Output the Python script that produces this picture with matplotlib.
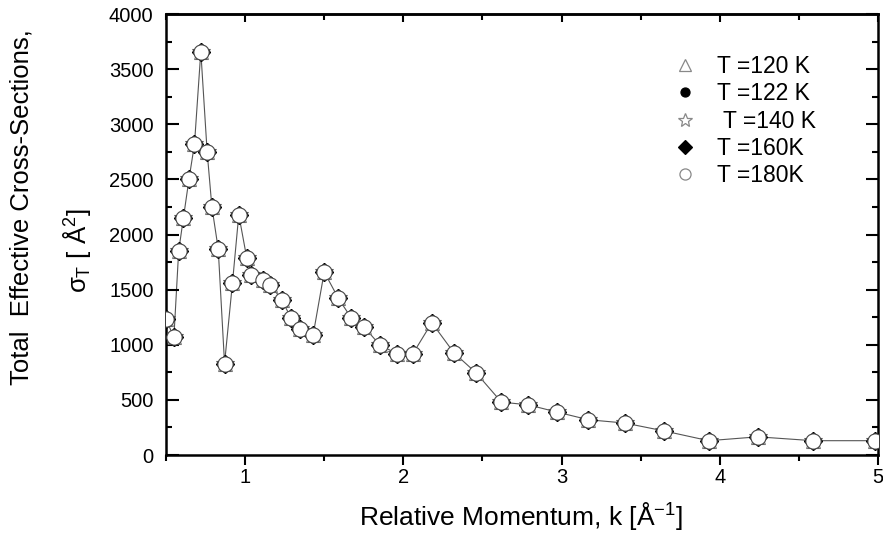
import matplotlib.pyplot as plt
import numpy as np
from matplotlib.ticker import MultipleLocator

plt.rcParams['font.family'] = ['Liberation Sans', 'DejaVu Sans']
plt.rcParams['mathtext.fontset'] = 'custom'
plt.rcParams['mathtext.rm'] = 'Liberation Sans'
plt.rcParams['mathtext.it'] = 'Liberation Sans'

# relative momentum k [1/A] and total cross section [A^2] (all temperatures overlap)
k = [0.50, 0.55, 0.58, 0.61, 0.645, 0.68, 0.72, 0.76, 0.79, 0.83, 0.87, 0.92,
     0.96, 1.01, 1.04, 1.11, 1.16, 1.23, 1.29, 1.35, 1.43, 1.50, 1.59, 1.67,
     1.75, 1.85, 1.96, 2.06, 2.18, 2.32, 2.46, 2.62, 2.79, 2.97, 3.17, 3.40,
     3.65, 3.93, 4.24, 4.59, 4.98]
sigma = [1230, 1070, 1850, 2150, 2500, 2820, 3660, 2750, 2250, 1870, 830, 1560,
         2180, 1790, 1630, 1590, 1545, 1410, 1245, 1145, 1090, 1660, 1420, 1245,
         1165, 1000, 918, 918, 1200, 927, 745, 480, 455, 390, 320, 290,
         218, 130, 165, 130, 130]
labels = ['T =120 K', 'T =122 K', ' T =140 K', 'T =160K', 'T =180K']

fig = plt.figure(figsize=(8.83, 5.33), dpi=100)
ax = fig.add_axes([0.188, 0.1463, 0.8063, 0.8274])

ax.plot(k, sigma, color='#555555', lw=0.8, zorder=1)
# markers, drawn on top of each other like in the original
ax.plot(k, sigma, ls='none', marker='^', ms=10, mfc='white', mec='#777777', mew=0.8, label=labels[0], zorder=2)
ax.plot(k, sigma, ls='none', marker='o', ms=7, mfc='black', mec='black', label=labels[1], zorder=2)
ax.plot(k, sigma, ls='none', marker='*', ms=13, mfc='white', mec='#555555', mew=0.8, label=labels[2], zorder=2)
ax.plot(k, sigma, ls='none', marker='D', ms=9, mfc='black', mec='black', label=labels[3], zorder=2)
ax.plot(k, sigma, ls='none', marker='o', ms=11, mfc='white', mec='#444444', mew=0.8, label=labels[4], zorder=3)

leg = ax.legend(loc='upper left', bbox_to_anchor=(0.7128, 0.907), frameon=False,
                fontsize=16.5, handletextpad=0.9, labelspacing=0.19, handlelength=1.0,
                borderpad=0, borderaxespad=0)
leg_styles = [('^', 'white', '#888888', 9), ('o', 'black', 'black', 6.5),
              ('*', 'white', '#888888', 10), ('D', 'black', 'black', 7),
              ('o', 'white', '#888888', 8)]
for h, (m, fc, ec, s) in zip(leg.legend_handles, leg_styles):
    h.set_marker(m)
    h.set_markerfacecolor(fc)
    h.set_markeredgecolor(ec)
    h.set_markersize(s)
    h.set_markeredgewidth(0.9)

ax.set_xlim(0.5, 5)
ax.set_ylim(0, 4000)
ax.xaxis.set_major_locator(MultipleLocator(1))
ax.xaxis.set_minor_locator(MultipleLocator(0.5))
ax.yaxis.set_major_locator(MultipleLocator(500))
ax.yaxis.set_minor_locator(MultipleLocator(250))

# bottom ticks point outwards, the other three sides inwards
ax.tick_params(axis='x', which='both', direction='out', labelsize=14.5, width=1.5, pad=2)
ax.tick_params(axis='x', which='major', length=7)
ax.tick_params(axis='x', which='minor', length=4)
ax.tick_params(axis='y', which='both', direction='in', right=True, labelsize=14.5, width=1.5, pad=9)
ax.tick_params(axis='y', which='major', length=9)
ax.tick_params(axis='y', which='minor', length=4.5)

top = ax.secondary_xaxis('top')
top.xaxis.set_major_locator(MultipleLocator(1))
top.xaxis.set_minor_locator(MultipleLocator(0.5))
top.tick_params(which='both', direction='in', labeltop=False, width=1.5)
top.tick_params(which='major', length=6)
top.tick_params(which='minor', length=4)
top.spines['top'].set_linewidth(1.8)

for s in ax.spines.values():
    s.set_linewidth(1.8)

fig.text(0.590, 0.015, 'Relative Momentum, k [Å$^{-1}$]', fontsize=19, ha='center', va='baseline')
fig.text(0.0249, 0.6116, 'Total  Effective Cross-Sections,', fontsize=18.5, rotation=90,
         ha='center', va='center')
fig.text(0.0872, 0.529, '$\\sigma_{T}$ [ Å$^{2}$]', fontsize=18.5, rotation=90,
         ha='center', va='center')

fig.savefig('out.png', dpi=100)
